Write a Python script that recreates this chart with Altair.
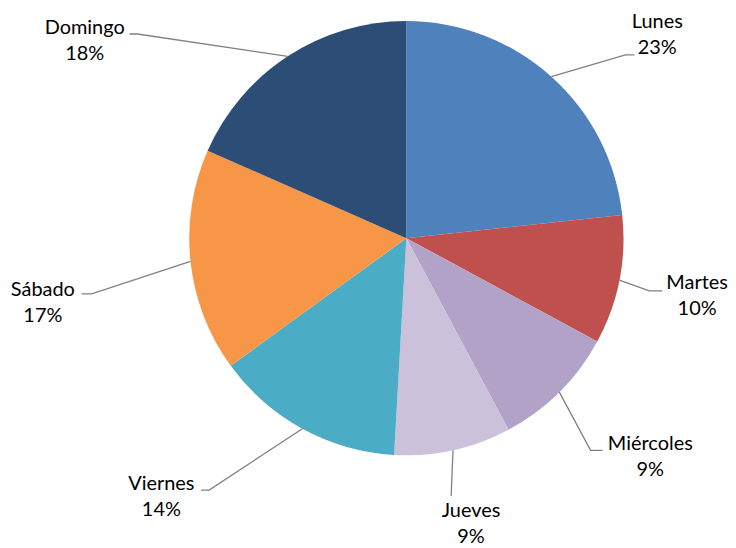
import altair as alt
import pandas as pd
import numpy as np

# ---- data ----
days = ["Lunes", "Martes", "Miércoles", "Jueves", "Viernes", "Sábado", "Domingo"]
shares = [23.3, 9.6, 9.3, 8.7, 14.1, 16.6, 18.4]
colors = ["#4F81BD", "#C0504D", "#B3A2C7", "#CCC1DA", "#4BACC6", "#F79646", "#2C4D75"]

# ---- layout (page pixels) ----
CX, CY, R = 408, 238, 218
label_x = [660, 700, 653, 473, 162, 43, 85]
label_y = [21, 283, 445, 512, 485, 290, 27]
elbow_x = [628, 652, 593, 453, 210, 92, 138]
elbow_y = [54, 291, 451, 497, 491, 294, 33]
end_x = [637, 665, 605, 453, 202, 82, 130]
W, H = 720, 532
FONT = "Lato"
FS = 20
LINE_GAP = 26

df = pd.DataFrame({"day": days, "share": shares, "idx": range(len(days))})
total = sum(shares)
cum = np.cumsum(shares)
mid = (cum - np.array(shares) / 2) / total * 2 * np.pi
rim_x = CX + R * np.sin(mid)
rim_y = CY - R * np.cos(mid)

rows = []
for i, d in enumerate(days):
    rows.append({"day": d, "k": 0, "x": rim_x[i], "y": rim_y[i]})
    rows.append({"day": d, "k": 1, "x": elbow_x[i], "y": elbow_y[i]})
    rows.append({"day": d, "k": 2, "x": end_x[i], "y": elbow_y[i]})
lines_df = pd.DataFrame(rows)

lab_df = pd.DataFrame({
    "day": days,
    "pct": [f"{round(s)}%" for s in shares],
    "x": label_x,
    "y": label_y,
    "y2": [v + LINE_GAP for v in label_y],
})

xs = alt.Scale(domain=[8, 8 + W])
ys = alt.Scale(domain=[8, 8 + H], reverse=True)

pie = alt.Chart(df).mark_arc(radius=R).encode(
    theta=alt.Theta("share:Q", stack=True),
    order=alt.Order("idx:Q"),
    color=alt.Color("day:N", scale=alt.Scale(domain=days, range=colors), legend=None),
    x=alt.value(CX - 8),
    y=alt.value(CY - 8),
)

lines = alt.Chart(lines_df).mark_line(color="#808080", strokeWidth=1.3).encode(
    x=alt.X("x:Q", scale=xs, axis=None),
    y=alt.Y("y:Q", scale=ys, axis=None),
    detail="day:N",
    order=alt.Order("k:Q"),
)

names = alt.Chart(lab_df).mark_text(
    font=FONT, fontSize=FS, color="#000000", align="center", baseline="middle"
).encode(
    x=alt.X("x:Q", scale=xs, axis=None),
    y=alt.Y("y:Q", scale=ys, axis=None),
    text="day:N",
)

pcts = alt.Chart(lab_df).mark_text(
    font=FONT, fontSize=FS, color="#000000", align="center", baseline="middle"
).encode(
    x=alt.X("x:Q", scale=xs, axis=None),
    y=alt.Y("y2:Q", scale=ys, axis=None),
    text="pct:N",
)

chart = alt.layer(pie, lines, names, pcts).properties(
    width=W, height=H, padding=0
).configure_view(stroke=None)

chart.save("out.html", embed_options={"renderer": "svg", "actions": False})
